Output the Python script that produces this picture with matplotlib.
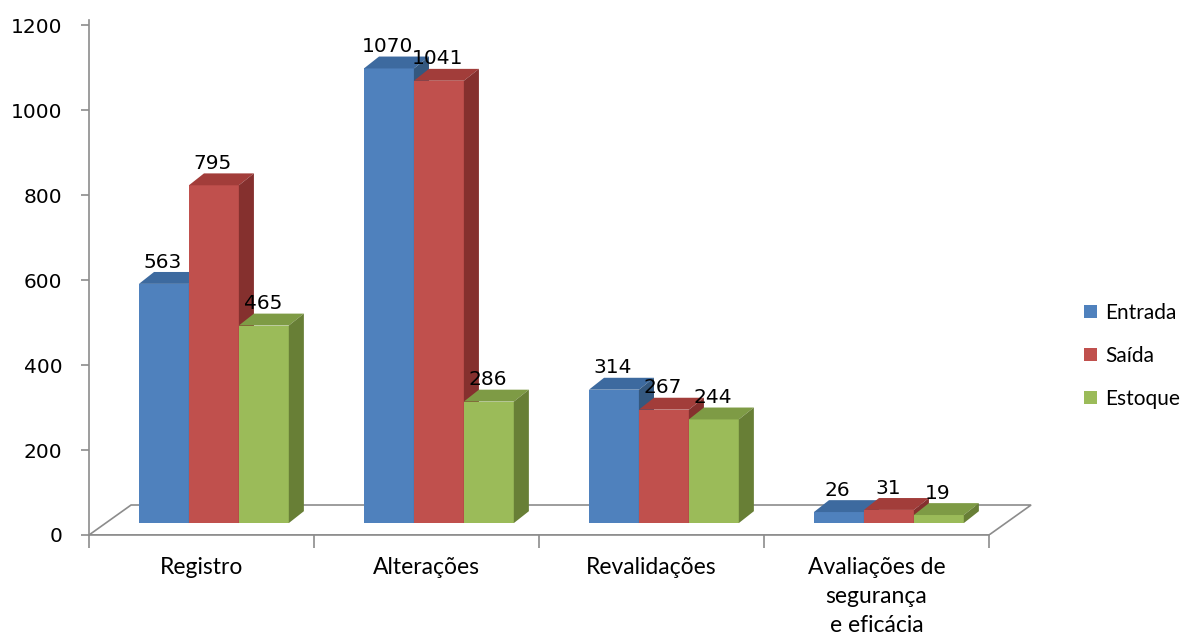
import matplotlib.pyplot as plt
from matplotlib.patches import Polygon, Patch

categories = ['Registro', 'Alterações', 'Revalidações', 'Avaliações de\nsegurança\ne eficácia']
series = ['Entrada', 'Saída', 'Estoque']
entrada = [563, 1070, 314, 26]
saida = [795, 1041, 267, 31]
estoque = [465, 286, 244, 19]
values = [entrada, saida, estoque]

front = ['#4F81BD', '#C0504D', '#9BBB59']
top = ['#3D6A9F', '#A23D3A', '#7E9B45']
side = ['#34587F', '#85302E', '#687F36']

fig = plt.figure(figsize=(11.92, 6.36), dpi=100)
ax = fig.add_axes([89 / 1192, 101 / 636, 945 / 1192, 515 / 636])
ax.set_xlim(-0.5, 3.7)
ax.set_ylim(0, 1212)

# 3d look: depth offsets in data units
fdx, fdy = 0.187, 70.6   # floor depth
bdx, bdy = 0.067, 28     # bar depth
base = 28
w = 0.222

# floor
floor = Polygon([(-0.5, 0), (-0.5 + fdx, fdy), (3.5 + fdx, fdy), (3.5, 0)],
                closed=True, facecolor='white', edgecolor='#8C8C8C', lw=1.2, zorder=1)
ax.add_patch(floor)

for i in range(len(categories)):
    for s in range(3):
        v = values[s][i]
        x0 = i - 0.278 + s * w
        ax.bar(x0, v, width=w, bottom=base, align='edge', color=front[s],
               edgecolor='none', zorder=2)
        t = base + v
        ax.add_patch(Polygon([(x0, t), (x0 + bdx, t + bdy), (x0 + w + bdx, t + bdy), (x0 + w, t)],
                             closed=True, facecolor=top[s], edgecolor='none', zorder=2))
        ax.add_patch(Polygon([(x0 + w, base), (x0 + w + bdx, base + bdy),
                              (x0 + w + bdx, t + bdy), (x0 + w, t)],
                             closed=True, facecolor=side[s], edgecolor='none', zorder=2))
        ax.text(x0 + w / 2 - 0.005, t + bdy + 1, str(v), ha='center', va='bottom',
                fontsize=14.5, family='DejaVu Sans', zorder=5)

for sp in ['top', 'right']:
    ax.spines[sp].set_visible(False)
for sp in ['left', 'bottom']:
    ax.spines[sp].set_color('#8C8C8C')
    ax.spines[sp].set_linewidth(1.2)
ax.spines['left'].set_bounds(0, 1212)
ax.spines['bottom'].set_bounds(-0.5, 3.5)

ax.set_yticks(range(0, 1201, 200))
ax.tick_params(axis='y', length=6, width=1.2, color='#8C8C8C', labelsize=14.5, pad=13)
ax.set_xticks(range(4))
ax.set_xticklabels(categories, family='Lato', fontsize=16.5, linespacing=1.45)
ax.set_xticks([-0.5, 0.5, 1.5, 2.5, 3.5], minor=True)
ax.tick_params(axis='x', which='major', length=0, pad=16)
ax.tick_params(axis='x', which='minor', length=9, width=1.2, color='#8C8C8C')

handles = [Patch(facecolor=front[k], edgecolor='none') for k in range(3)]
fig.legend(handles, series, loc='center left', bbox_to_anchor=(1084 / 1192, 1 - 356 / 636),
           frameon=False, prop={'family': 'Lato', 'size': 15}, handlelength=0.6,
           handleheight=0.6, handletextpad=0.4, labelspacing=1.1,
           borderpad=0, borderaxespad=0)

fig.savefig('out.png', dpi=100)
